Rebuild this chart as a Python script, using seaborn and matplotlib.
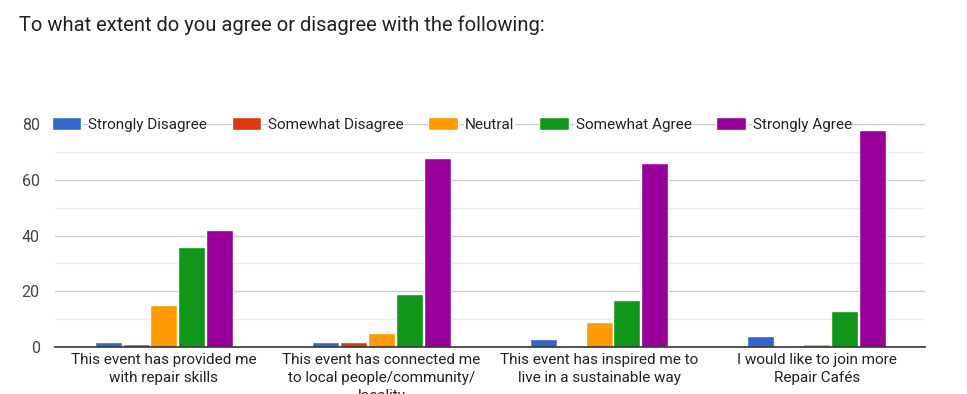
import pandas as pd
import matplotlib.pyplot as plt
import seaborn as sns
from matplotlib.ticker import MultipleLocator

questions = [
    "This event has provided me\nwith repair skills",
    "This event has connected me\nto local people/community/\nlocality",
    "This event has inspired me to\nlive in a sustainable way",
    "I would like to join more\nRepair Cafés",
]
responses = ["Strongly Disagree", "Somewhat Disagree", "Neutral", "Somewhat Agree", "Strongly Agree"]
strongly_disagree = [2, 2, 3, 4]
somewhat_disagree = [1, 2, 0, 0]
neutral = [15, 5, 9, 1]
somewhat_agree = [36, 19, 17, 13]
strongly_agree = [42, 68, 66, 78]
colors = ["#3366cc", "#dc3912", "#ff9900", "#109618", "#990099"]

series = [strongly_disagree, somewhat_disagree, neutral, somewhat_agree, strongly_agree]
rows = []
for resp, vals in zip(responses, series):
    for q, v in zip(questions, vals):
        rows.append({"question": q, "response": resp, "count": v})
df = pd.DataFrame(rows)

sns.set_style("white")
plt.rcParams['font.family'] = ['Roboto', 'DejaVu Sans']

fig = plt.figure(figsize=(9.67, 3.94), dpi=100)
ax = fig.add_axes([0.057, 0.119, 0.9, 0.566])

sns.barplot(data=df, x="question", y="count", hue="response", hue_order=responses,
            palette=colors, width=0.64, gap=0.03, saturation=1, ax=ax, zorder=3)

ax.set_ylim(0, 80)
ax.set_xlim(-0.5, 3.5)
ax.yaxis.set_major_locator(MultipleLocator(20))
ax.yaxis.set_minor_locator(MultipleLocator(10))
ax.grid(axis='y', which='major', color='#cccccc', linewidth=1, zorder=0)
ax.grid(axis='y', which='minor', color='#ebebeb', linewidth=1, zorder=0)
for s in ['top', 'right', 'left']:
    ax.spines[s].set_visible(False)
ax.spines['bottom'].set_color('#333333')
ax.spines['bottom'].set_linewidth(1.2)
ax.spines['bottom'].set_zorder(4)
ax.tick_params(axis='y', which='both', length=0, labelsize=11.5, labelcolor='#444444', pad=11)
ax.tick_params(axis='x', length=0, labelsize=11, labelcolor='#222222', pad=4)
for lbl in ax.get_xticklabels():
    lbl.set_linespacing(1.4)
ax.set_xlabel("")
ax.set_ylabel("")

leg = ax.legend(loc='center left', bbox_to_anchor=(-0.011, 1.0), ncol=5, frameon=False,
                fontsize=11, handlelength=1.95, handleheight=0.95, handletextpad=0.45,
                columnspacing=1.6, borderaxespad=0)
for t in leg.get_texts():
    t.set_color('#222222')
    t.set_bbox(dict(facecolor='white', edgecolor='none', pad=0.5))

fig.text(0.02, 0.935, "To what extent do you agree or disagree with the following:",
         fontsize=14.5, color='#202124', va='center')

fig.savefig("out.png", dpi=100)
